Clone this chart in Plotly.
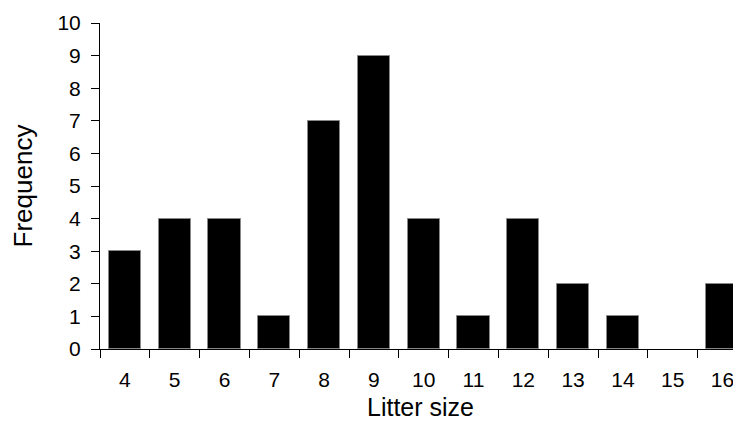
import plotly.graph_objects as go

categories = [4, 5, 6, 7, 8, 9, 10, 11, 12, 13, 14, 15, 16]
frequency = [3, 4, 4, 1, 7, 9, 4, 1, 4, 2, 1, 0, 2]
y_ticks = list(range(0, 11))

boundaries = [c - 0.5 for c in categories]
outline_widths = [1 if v > 0 else 0 for v in frequency]

FONT = "Liberation Sans, Arial, sans-serif"

fig = go.Figure()
fig.add_trace(go.Bar(
    x=categories, y=frequency, width=0.65,
    marker=dict(color="black", line=dict(color="#888888", width=outline_widths)),
    showlegend=False, hoverinfo="skip",
))
# invisible traces to activate the helper axes (boundary ticks / y labels)
fig.add_trace(go.Scatter(x=[categories[0]], y=[0], xaxis="x2", mode="markers",
                         marker=dict(opacity=0), showlegend=False, hoverinfo="skip"))
fig.add_trace(go.Scatter(x=[categories[0]], y=[0], yaxis="y2", mode="markers",
                         marker=dict(opacity=0), showlegend=False, hoverinfo="skip"))

xr = [categories[0] - 0.5, categories[0] - 0.5 + 641 / 49.8]

fig.update_layout(
    width=733, height=421,
    margin=dict(l=92, r=0, t=15, b=80),
    paper_bgcolor="white", plot_bgcolor="white",
    font=dict(family=FONT, size=21, color="black"),
    bargap=0,
    xaxis=dict(
        range=xr, tickvals=categories, ticktext=[str(c) for c in categories],
        ticks="outside", ticklen=8, tickcolor="rgba(0,0,0,0)",
        showline=True, linecolor="black", linewidth=1,
        showgrid=False, zeroline=False, automargin=True,
        title=dict(text="Litter size", font=dict(size=25), standoff=8),
        tickfont=dict(size=21), ticklabelstandoff=4,
    ),
    xaxis2=dict(
        overlaying="x", anchor="y", side="bottom", range=xr,
        tickvals=boundaries, ticks="outside", ticklen=8, tickcolor="black",
        showticklabels=False, showline=False, showgrid=False, zeroline=False,
    ),
    yaxis=dict(
        range=[0, 10], tickvals=y_ticks,
        ticks="outside", ticklen=8, tickcolor="black",
        showline=True, linecolor="black", linewidth=1,
        showgrid=False, zeroline=False, showticklabels=False, automargin=True,
        title=dict(text="Frequency", font=dict(size=26), standoff=55),
    ),
    yaxis2=dict(
        overlaying="y", side="left", anchor="x", range=[0, 10], tickvals=y_ticks,
        ticks="outside", ticklen=14, tickcolor="rgba(0,0,0,0)",
        showline=False, showgrid=False, zeroline=False,
        tickfont=dict(size=21),
    ),
)

fig.write_html("out.html")
